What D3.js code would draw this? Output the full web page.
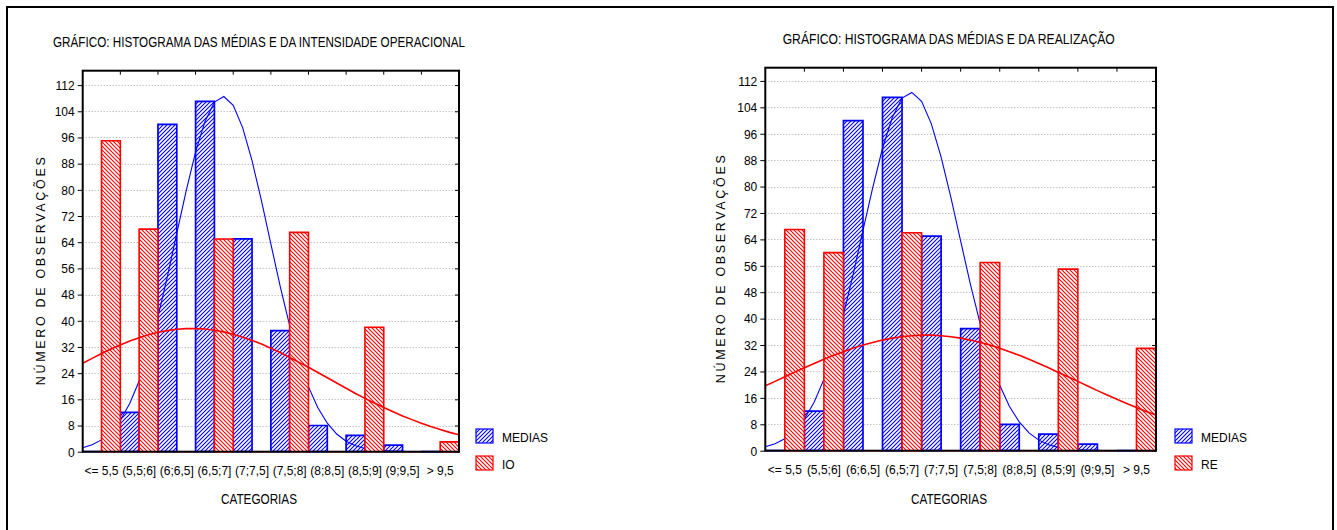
<!DOCTYPE html>
<html>
<head>
<meta charset="utf-8">
<script src="https://cdn.jsdelivr.net/npm/d3@7"></script>
<style>
  body { margin: 0; background: #fff; }
  svg { display: block; font-family: "Liberation Sans", Arial, sans-serif; }
</style>
</head>
<body>
<svg id="chart" width="1337" height="530"></svg>
<script>
// --- data ---
const categories = ['<= 5,5', '(5,5;6]', '(6;6,5]', '(6,5;7]', '(7;7,5]', '(7,5;8]', '(8;8,5]', '(8,5;9]', '(9;9,5]', '> 9,5']
const mediasCounts = [0, 12, 100, 107, 65, 37, 8, 5, 2, 0]
const ioCounts     = [95, 68, 0, 65, 0, 67, 0, 38, 0, 3]
const reCounts     = [67, 60, 0, 66, 0, 57, 0, 55, 0, 31]
const yTicks = [0, 8, 16, 24, 32, 40, 48, 56, 64, 72, 80, 88, 96, 104, 112]

// fitted normal curves, read at these x positions (5 .. 10)
const curveX = [5, 5.125, 5.25, 5.375, 5.5, 5.625, 5.75, 5.875, 6, 6.125, 6.25, 6.375, 6.5, 6.625, 6.75, 6.875,
  7, 7.125, 7.25, 7.375, 7.5, 7.625, 7.75, 7.875, 8, 8.125, 8.25, 8.375, 8.5, 8.625, 8.75, 8.875,
  9, 9.125, 9.25, 9.375, 9.5, 9.625, 9.75, 9.875, 10]
const mediasCurve = [1.2, 2.1, 3.6, 6.1, 9.6, 14.7, 21.6, 30.5, 41.2, 53.5, 66.7, 79.7, 91.6, 100.9, 106.8, 108.5,
  105.8, 99.0, 88.9, 76.7, 63.5, 50.4, 38.5, 28.2, 19.8, 13.4, 8.7, 5.4, 3.2, 1.8, 1.0, 0.5,
  0.3, 0.1, 0.1, 0, 0, 0, 0, 0, 0]
const ioCurve = [27.0, 28.5, 30.0, 31.4, 32.6, 33.8, 34.8, 35.7, 36.5, 37.0, 37.4, 37.6, 37.6, 37.5, 37.1, 36.6,
  35.9, 35.0, 34.0, 32.9, 31.6, 30.3, 28.8, 27.3, 25.8, 24.2, 22.6, 21.0, 19.4, 17.8, 16.3, 14.9,
  13.5, 12.2, 10.9, 9.8, 8.7, 7.7, 6.8, 5.9, 5.2]
const reCurve = [19.7, 21.0, 22.4, 23.8, 25.1, 26.4, 27.7, 28.9, 30.0, 31.1, 32.0, 32.8, 33.5, 34.1, 34.5, 34.8,
  35.0, 35.0, 34.8, 34.5, 34.1, 33.5, 32.8, 32.0, 31.0, 30.0, 28.9, 27.7, 26.4, 25.1, 23.7, 22.4,
  21.0, 19.6, 18.2, 16.9, 15.6, 14.3, 13.1, 11.9, 10.8]

const BLUE = '#0000ff'
const RED  = '#ff0000'

const svg = d3.select('#chart')
const defs = svg.append('defs')

// the original uses a narrow screen font: draw taller glyphs squeezed to the 12px width
function narrow(sel, size) {
  sel.each(function () {
    const t = d3.select(this)
    t.attr('font-size', 12)
    const len = this.getComputedTextLength()
    t.attr('font-size', size).attr('textLength', len).attr('lengthAdjust', 'spacingAndGlyphs')
  })
}

// hatch fills: "/" for blue, "\" for red
function hatch(id, color, dir) {
  const p = defs.append('pattern')
    .attr('id', id)
    .attr('patternUnits', 'userSpaceOnUse')
    .attr('width', 4).attr('height', 4)
  p.append('rect').attr('width', 4).attr('height', 4).attr('fill', '#fff')
  const d = dir === '/'
    ? 'M-1,1 L1,-1 M0,4 L4,0 M3,5 L5,3'
    : 'M-1,3 L1,5 M0,0 L4,4 M3,-1 L5,1'
  p.append('path').attr('d', d).attr('stroke', color).attr('stroke-width', 1.1)
}
hatch('hatch-blue', BLUE, '/')
hatch('hatch-red', RED, '\\')

// outer frame (open at the bottom, cut off by the picture)
svg.append('path')
  .attr('d', 'M7,540 V7 H1333 V540')
  .attr('fill', 'none').attr('stroke', '#000').attr('stroke-width', 2)

const panels = [
  {
    title: 'GRÁFICO: HISTOGRAMA DAS MÉDIAS E DA INTENSIDADE OPERACIONAL',
    titleX: 53, titleY: 47, titleLen: 412,
    x0: 82.7, x1: 459, top: 70.7, bottom: 451.7, yMax: 116.4,
    yTitleX: 45, xTitleX: 259, xTitleY: 504,
    legendX: 476, legendY: 429,
    second: 'IO', counts: ioCounts, curve: ioCurve,
  },
  {
    title: 'GRÁFICO: HISTOGRAMA DAS MÉDIAS E DA REALIZAÇÃO',
    titleX: 782.7, titleY: 43.5, titleLen: 332,
    x0: 765.3, x1: 1156, top: 67.7, bottom: 450.7, yMax: 116,
    yTitleX: 725, xTitleX: 949, xTitleY: 503.5,
    legendX: 1175, legendY: 429,
    second: 'RE', counts: reCounts, curve: reCurve,
  },
]

panels.forEach(drawPanel)

function drawPanel(cfg) {
  const g = svg.append('g')

  const x = d3.scaleBand().domain(categories).range([cfg.x0, cfg.x1]).paddingInner(0).paddingOuter(0)
  const half = d3.scaleBand().domain(['medias', 'second']).range([0, x.bandwidth()])
  const xc = d3.scaleLinear().domain([5, 10]).range([cfg.x0, cfg.x1])
  const y = d3.scaleLinear().domain([0, cfg.yMax]).range([cfg.bottom, cfg.top])

  // title
  g.append('text')
    .attr('x', cfg.titleX).attr('y', cfg.titleY)
    .attr('font-size', 14)
    .attr('textLength', cfg.titleLen).attr('lengthAdjust', 'spacingAndGlyphs')
    .text(cfg.title)

  // dotted grid
  g.append('g').selectAll('line')
    .data(yTicks.filter(t => t > 0)).join('line')
    .attr('x1', cfg.x0).attr('x2', cfg.x1)
    .attr('y1', d => Math.round(y(d)) + 0.5).attr('y2', d => Math.round(y(d)) + 0.5)
    .attr('stroke', '#a8a8a8').attr('stroke-width', 1).attr('stroke-dasharray', '1,2')

  // y axis (left, ticks outside)
  const yAxis = g.append('g')
    .attr('transform', `translate(${cfg.x0},0)`)
    .call(d3.axisLeft(y).tickValues(yTicks).tickSize(5).tickPadding(3))
  yAxis.select('.domain').remove()
  yAxis.selectAll('line').attr('stroke', '#000')
  yAxis.selectAll('text')
    .attr('font-family', '"Liberation Sans", Arial, sans-serif').attr('fill', '#000')
    .call(narrow, 13.5)

  // right-side ticks pointing inward
  g.append('g')
    .attr('transform', `translate(${cfg.x1},0)`)
    .call(d3.axisLeft(y).tickValues(yTicks).tickSize(4).tickFormat(''))
    .call(a => a.select('.domain').remove())
    .selectAll('line').attr('stroke', '#000')

  // top ticks at category borders, pointing down
  g.append('g').selectAll('line')
    .data(categories.slice(1)).join('line')
    .attr('x1', d => x(d)).attr('x2', d => x(d))
    .attr('y1', cfg.top).attr('y2', cfg.top + 4)
    .attr('stroke', '#000')

  // x tick labels
  g.append('g').selectAll('text')
    .data(categories).join('text')
    .attr('x', d => x(d) + x.bandwidth() / 2)
    .attr('y', cfg.bottom + 23)
    .attr('text-anchor', 'middle')
    .text(d => d)
    .call(narrow, 13.5)

  const barPath = (xl, w, v) => {
    const yt = y(v), yb = y(0)
    return `M${xl},${yb} V${yt} H${xl + w} V${yb} Z`
  }

  // MEDIAS bars
  g.append('g').selectAll('path')
    .data(categories).join('path')
    .attr('d', (c, i) => barPath(x(c) + half('medias'), half.bandwidth(), mediasCounts[i]))
    .attr('fill', 'url(#hatch-blue)')
    .attr('stroke', BLUE).attr('stroke-width', 1.7)

  const line = d3.line().x((d, i) => xc(curveX[i])).y(d => y(d))

  // MEDIAS normal curve
  g.append('path')
    .datum(mediasCurve)
    .attr('d', line)
    .attr('fill', 'none').attr('stroke', BLUE).attr('stroke-width', 1.1)

  // second series bars
  g.append('g').selectAll('path')
    .data(categories).join('path')
    .attr('d', (c, i) => barPath(x(c) + half('second'), half.bandwidth(), cfg.counts[i]))
    .attr('fill', 'url(#hatch-red)')
    .attr('stroke', RED).attr('stroke-width', 1.6)

  // second series normal curve
  g.append('path')
    .datum(cfg.curve)
    .attr('d', line)
    .attr('fill', 'none').attr('stroke', RED).attr('stroke-width', 1.6)

  // plot frame
  g.append('rect')
    .attr('x', cfg.x0).attr('y', cfg.top)
    .attr('width', cfg.x1 - cfg.x0).attr('height', cfg.bottom - cfg.top)
    .attr('fill', 'none').attr('stroke', '#000').attr('stroke-width', 2)

  // axis titles
  g.append('text')
    .attr('transform', `translate(${cfg.yTitleX},${(cfg.top + cfg.bottom) / 2 + 10}) rotate(-90)`)
    .attr('text-anchor', 'middle')
    .attr('font-size', 12.5)
    .attr('textLength', 228).attr('lengthAdjust', 'spacing')
    .text('NÚMERO DE OBSERVAÇÕES')

  g.append('text')
    .attr('x', cfg.xTitleX).attr('y', cfg.xTitleY)
    .attr('text-anchor', 'middle')
    .attr('font-size', 14)
    .attr('textLength', 76).attr('lengthAdjust', 'spacingAndGlyphs')
    .text('CATEGORIAS')

  // legend
  const legend = g.append('g').attr('transform', `translate(${cfg.legendX},${cfg.legendY})`)
  const items = [
    { name: 'MEDIAS', fill: 'url(#hatch-blue)', color: BLUE },
    { name: cfg.second, fill: 'url(#hatch-red)', color: RED },
  ]
  const row = legend.selectAll('g').data(items).join('g')
    .attr('transform', (d, i) => `translate(0,${i * 27})`)
  row.append('rect')
    .attr('width', 17).attr('height', 14)
    .attr('fill', d => d.fill)
    .attr('stroke', d => d.color).attr('stroke-width', 1.2)
  row.append('text')
    .attr('x', 26).attr('y', 13)
    .text(d => d.name)
    .call(narrow, 13.5)
}
</script>
</body>
</html>
